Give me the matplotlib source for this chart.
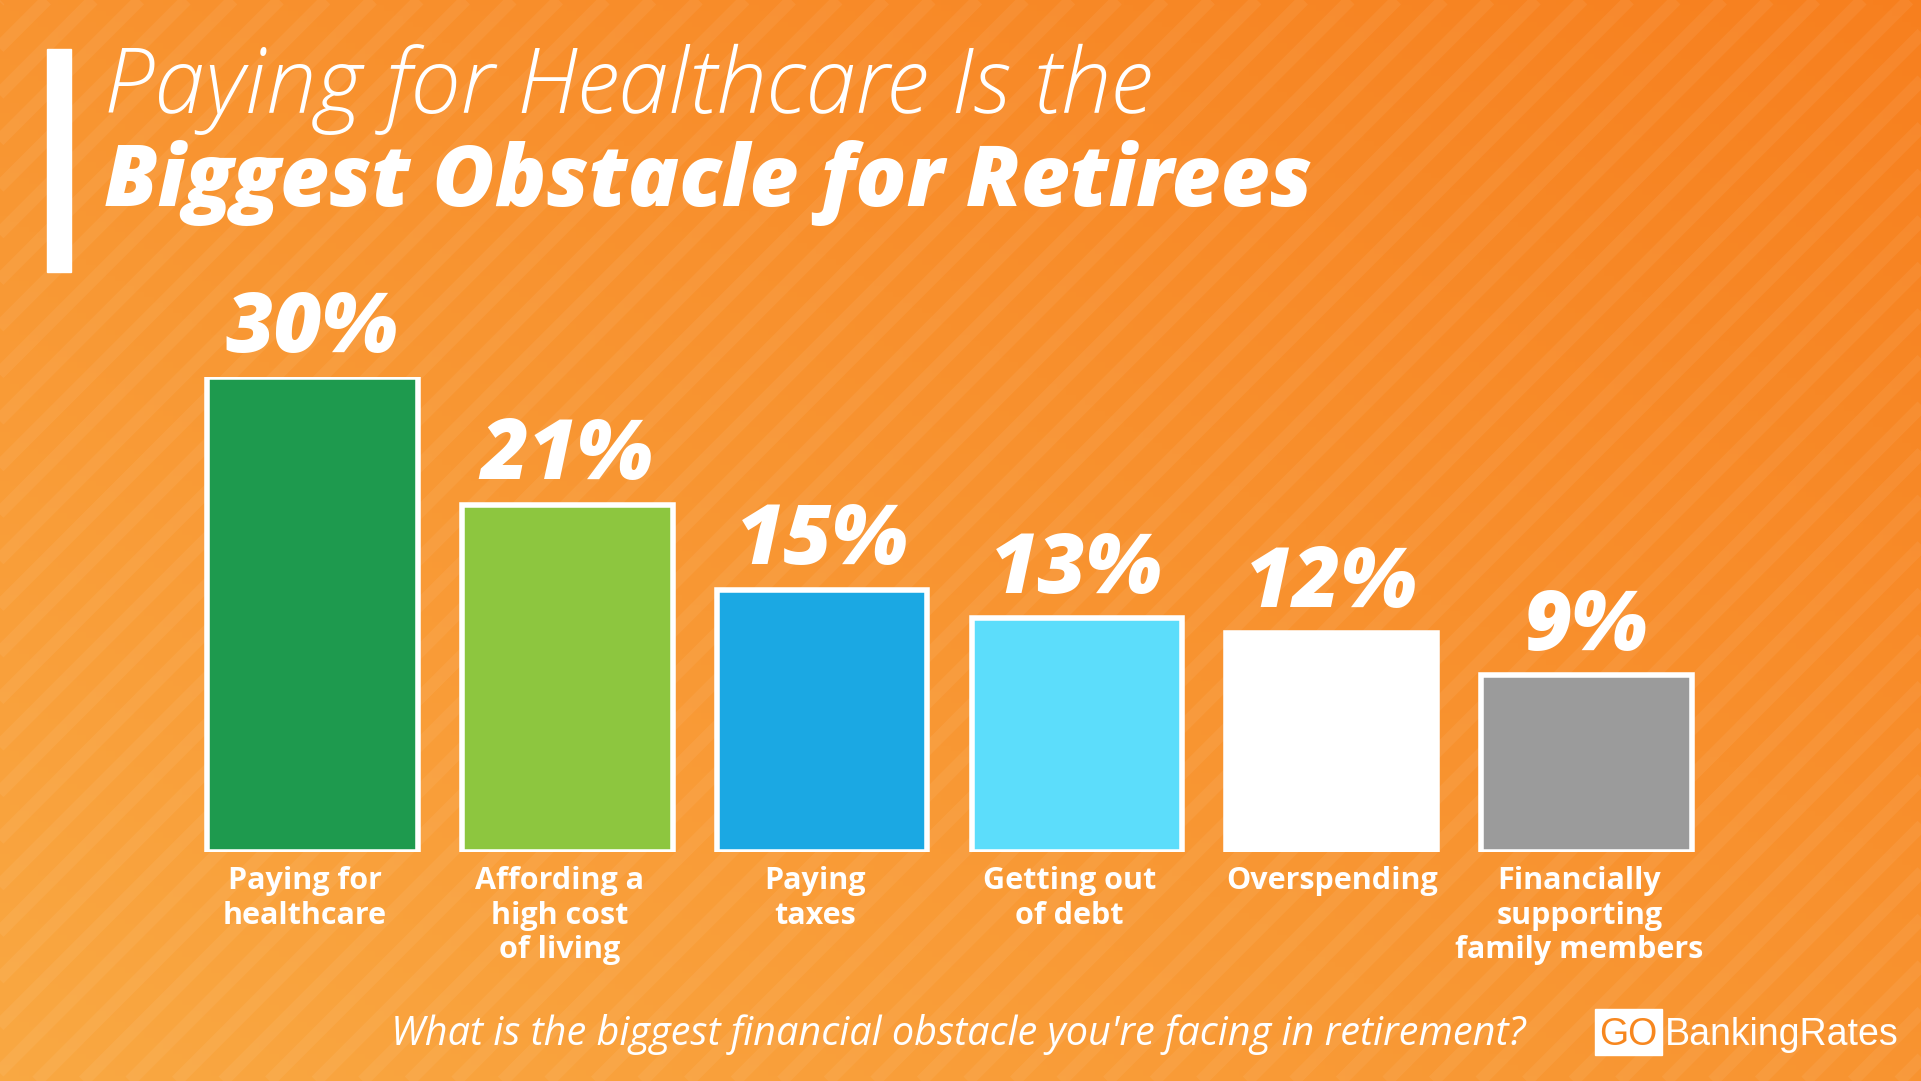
import matplotlib
matplotlib.use("Agg")
import matplotlib.pyplot as plt
import numpy as np
from matplotlib.patches import Rectangle

categories = ["Paying for\nhealthcare", "Affording a\nhigh cost\nof living", "Paying\ntaxes",
              "Getting out\nof debt", "Overspending", "Financially\nsupporting\nfamily members"]
values = [30, 21, 15, 13, 12, 9]
labels = ["30%", "21%", "15%", "13%", "12%", "9%"]
colors = ["#1E9A4E", "#8DC63F", "#1BA8E3", "#5CDDFB", "#FFFFFF", "#9B9B9B"]

W, H = 1568, 882  # reference layout units
FONT = "Open Sans"

fig = plt.figure(figsize=(19.21, 10.81), dpi=100)

# background gradient + stripes
bg = fig.add_axes([0, 0, 1, 1])
yy, xx = np.mgrid[0:1:200j, 0:1:200j]
t = (xx + (1 - yy)) / 2
c0 = np.array([0.98, 0.66, 0.26])
c1 = np.array([0.97, 0.50, 0.12])
img = c0[None, None, :] * (1 - t[..., None]) + c1[None, None, :] * t[..., None]
bg.imshow(img, extent=[0, W, H, 0], aspect="auto", origin="upper")
for s in np.arange(-H, W + H, 38):
    bg.plot([s, s + H], [H, 0], color="white", alpha=0.06, lw=9, solid_capstyle="butt")
bg.set_xlim(0, W)
bg.set_ylim(H, 0)
bg.axis("off")

# left accent bar
bg.add_patch(Rectangle((38, 40), 20, 182, color="white"))

bg.text(85, 92, "Paying for Healthcare Is the", fontsize=65, color="white",
        fontfamily=FONT, style="italic", fontweight="light", va="baseline")
bg.text(85, 168, "Biggest Obstacle for Retirees", fontsize=61, color="white",
        fontfamily=FONT, style="italic", fontweight="heavy", va="baseline")

bg.text(1245, 853, "What is the biggest financial obstacle you're facing in retirement?",
        fontsize=28.5, color="white", fontfamily=FONT, style="italic", ha="right", va="baseline")

# logo
bg.add_patch(Rectangle((1302, 823), 55, 38, color="white"))
bg.text(1329, 853, "GO", fontsize=27, color="#F7871F", fontfamily="Liberation Sans",
        ha="center", va="baseline")
bg.text(1359, 853, "BankingRates", fontsize=27, color="white", fontfamily="Liberation Sans",
        ha="left", va="baseline")

# bars: the value axis starts below the bar base (zero line sits above it)
bottom, top = 695, 308
ymin = -3.46
ax = fig.add_axes([0, 1 - bottom / H, 1, (bottom - top) / H])
ax.set_xlim(0, W)
ax.set_ylim(ymin, 30)
x = 255 + 208 * np.arange(len(values))
ax.bar(x, np.array(values) - ymin, bottom=ymin, width=172, color=colors,
       edgecolor="white", linewidth=4)
for xi, v, lab, cat in zip(x, values, labels, categories):
    ax.text(xi, v + 0.4, lab, fontsize=60, color="white", fontfamily=FONT,
            style="italic", fontweight="heavy", ha="center", va="bottom")
    ax.text(xi - 6 if len(cat.split("\n")) > 1 else xi, ymin - 1.0, cat, fontsize=22,
            color="white", fontfamily=FONT, fontweight="bold", ha="center", va="top",
            linespacing=1.2)
ax.axis("off")

fig.savefig("out.png", dpi=100)
